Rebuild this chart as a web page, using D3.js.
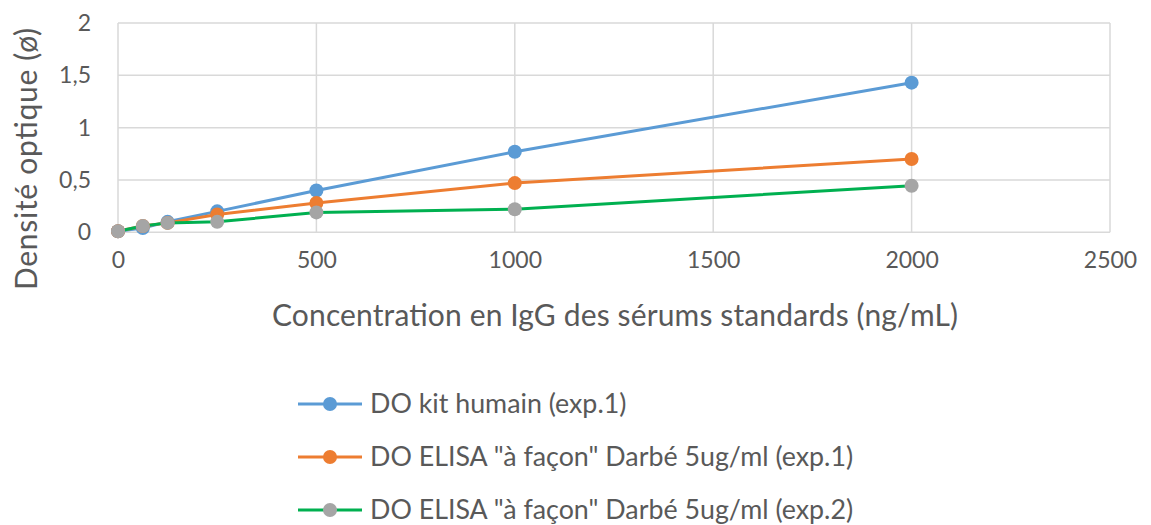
<!DOCTYPE html>
<html><head><meta charset="utf-8">
<script src="https://cdn.jsdelivr.net/npm/d3@7"></script>
<style>body{margin:0;background:#fff;} svg{display:block;} text{font-family:Lato,"Open Sans",sans-serif;fill:#595959;}</style>
</head><body><svg id="c" width="1151" height="525"></svg>
<script>
const concentrations = [0, 62.5, 125, 250, 500, 1000, 2000];
const seriesNames = ['DO kit humain (exp.1)', 'DO ELISA "à façon" Darbé 5ug/ml (exp.1)', 'DO ELISA "à façon" Darbé 5ug/ml (exp.2)'];
const kitHumain = [0.01, 0.04, 0.10, 0.20, 0.40, 0.77, 1.43];
const elisaExp1 = [0.01, 0.06, 0.09, 0.17, 0.28, 0.47, 0.70];
const elisaExp2 = [0.01, 0.06, 0.09, 0.10, 0.19, 0.22, 0.445];
const lineColors = ['#5B9BD5', '#ED7D31', '#00B050'];
const markerColors = ['#5B9BD5', '#ED7D31', '#A5A5A5'];
const xTicks = [0, 500, 1000, 1500, 2000, 2500];
const yTicks = [0, 0.5, 1, 1.5, 2];
const yTickLabels = ['0', '0,5', '1', '1,5', '2'];
const xTitle = 'Concentration en IgG des sérums standards (ng/mL)';
const yTitle = 'Densité optique (ø)';

const svg = d3.select('#c');
const x = d3.scaleLinear().domain([0, 2500]).range([118, 1110]);
const y = d3.scaleLinear().domain([0, 2]).range([232.3, 23]);

// grid
svg.append('g').selectAll('line').data(yTicks).join('line')
  .attr('x1', x(0)).attr('x2', x(2500)).attr('y1', d => y(d)).attr('y2', d => y(d))
  .attr('stroke', '#d9d9d9').attr('stroke-width', 1.5);
svg.append('g').selectAll('line').data(xTicks).join('line')
  .attr('y1', y(0)).attr('y2', y(2)).attr('x1', d => x(d)).attr('x2', d => x(d))
  .attr('stroke', '#d9d9d9').attr('stroke-width', 1.5);

// axes (labels only)
const xAxis = d3.axisBottom(x).tickValues(xTicks).tickSize(0).tickPadding(19).tickFormat(d3.format('d'));
const gx = svg.append('g').attr('transform', `translate(0,${y(0)})`).call(xAxis);
gx.select('.domain').remove();
gx.selectAll('text').style('font-size', '23px').attr('fill', '#595959').style('font-family', 'Lato');
const yAxis = d3.axisLeft(y).tickValues(yTicks).tickSize(0).tickPadding(27).tickFormat((d, i) => yTickLabels[i]);
const gy = svg.append('g').attr('transform', `translate(${x(0)},0)`).call(yAxis);
gy.select('.domain').remove();
gy.selectAll('text').style('font-size', '23px').attr('fill', '#595959').style('font-family', 'Lato');

// titles
svg.append('text').attr('x', 615).attr('y', 326).attr('text-anchor', 'middle')
  .attr('textLength', 686).attr('lengthAdjust', 'spacing')
  .style('font-size', '30px').text(xTitle);
svg.append('text').attr('transform', 'translate(37,159) rotate(-90)').attr('text-anchor', 'middle')
  .attr('textLength', 262).attr('lengthAdjust', 'spacing')
  .style('font-size', '30px').text(yTitle);

// series
const allSeries = [kitHumain, elisaExp1, elisaExp2];
const line = d3.line().x((d, i) => x(concentrations[i])).y(d => y(d));
allSeries.forEach((s, k) => {
  svg.append('path').datum(s).attr('d', line).attr('fill', 'none')
    .attr('stroke', lineColors[k]).attr('stroke-width', 3);
});
allSeries.forEach((s, k) => {
  svg.append('g').selectAll('circle').data(s).join('circle')
    .attr('cx', (d, i) => x(concentrations[i])).attr('cy', d => y(d)).attr('r', 7)
    .attr('fill', markerColors[k]);
});

// legend
const lg = svg.append('g');
seriesNames.forEach((name, k) => {
  const ly = 404 + k * 53;
  lg.append('line').attr('x1', 298).attr('x2', 362).attr('y1', ly).attr('y2', ly)
    .attr('stroke', lineColors[k]).attr('stroke-width', 3);
  lg.append('circle').attr('cx', 330).attr('cy', ly).attr('r', 7).attr('fill', markerColors[k]);
  lg.append('text').attr('x', 370).attr('y', ly + 9).style('font-size', '26.8px').text(name);
});
</script></body></html>
